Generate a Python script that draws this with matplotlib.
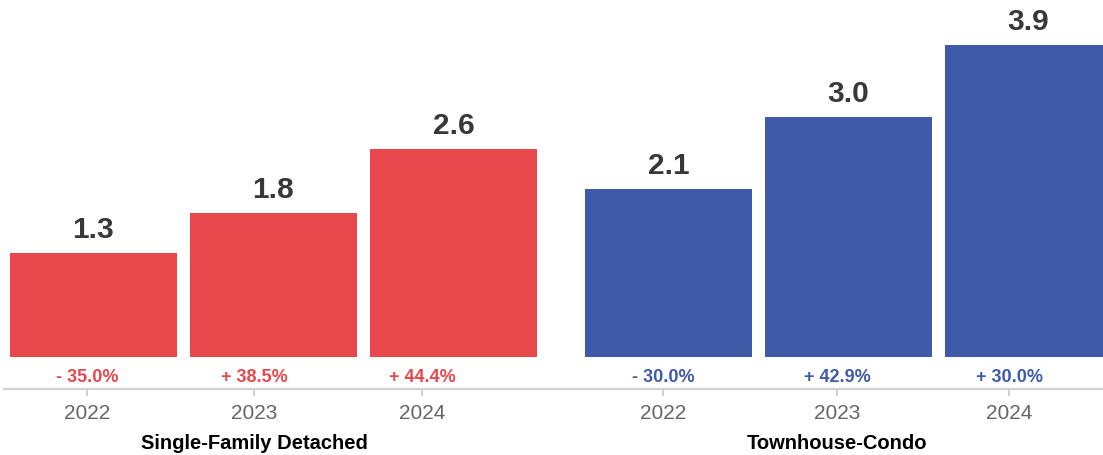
import matplotlib.pyplot as plt

plt.rcParams['font.family'] = ['Liberation Sans', 'DejaVu Sans']

# datos por grupo
grupos = ['Single-Family Detached', 'Townhouse-Condo']
anios = ['2022', '2023', '2024']
valores_sfd = [1.3, 1.8, 2.6]
valores_tc = [2.1, 3.0, 3.9]
cambios_sfd = ['- 35.0%', '+ 38.5%', '+ 44.4%']
cambios_tc = ['- 30.0%', '+ 42.9%', '+ 30.0%']

rojo = '#E8474C'
azul = '#3F5AA9'

fig = plt.figure(figsize=(11.03, 4.56), dpi=100)
ax = fig.add_axes([0, 66 / 456, 1, 390 / 456])

ancho = 0.928
salto = 0.195  # espacio extra entre grupos
x_sfd = [0, 1, 2]
x_tc = [3 + salto, 4 + salto, 5 + salto]
# las etiquetas de años van un poco corridas respecto a las barras
ticks_sfd = [-0.036, 0.892, 1.825]
ticks_tc = [3.164, 4.131, 5.087]

series = [(x_sfd, ticks_sfd, valores_sfd, cambios_sfd, rojo),
          (x_tc, ticks_tc, valores_tc, cambios_tc, azul)]

for xs, ts, vals, cambios, color in series:
    ax.bar(xs, vals, width=ancho, color=color)
    for x, v in zip(xs, vals):
        ax.annotate(f'{v:.1f}', (x, v), xytext=(0, 11.5), textcoords='offset points',
                    ha='center', va='baseline', fontsize=21.5, fontweight='bold',
                    color='#383838')
    for t, c in zip(ts, cambios):
        ax.text(t, -0.24, c, ha='center', va='center', fontsize=13,
                fontweight='bold', color=color)

xmin = -0.519
ax.set_xlim(xmin, 1103 / 180 + xmin)
ax.set_ylim(-0.4, 4.475)

ax.set_xticks(ticks_sfd + ticks_tc, anios + anios)
ax.tick_params(axis='x', colors='#d0d0d0', length=5, width=1.5, pad=5,
               labelcolor='#666666', labelsize=15)
ax.set_yticks([])
for lado in ['top', 'left', 'right']:
    ax.spines[lado].set_visible(False)
ax.spines['bottom'].set_color('#d0d0d0')
ax.spines['bottom'].set_linewidth(1.5)
ax.spines['bottom'].set_bounds(xmin + 4 / 180, 1103 / 180 + xmin)

trans = ax.get_xaxis_transform()
ax.text(ticks_sfd[1], -0.136, grupos[0], transform=trans, ha='center', va='center',
        fontsize=14.5, fontweight='bold', color='black')
ax.text(ticks_tc[1], -0.136, grupos[1], transform=trans, ha='center', va='center',
        fontsize=14.5, fontweight='bold', color='black')

plt.savefig('out.png', dpi=100)
